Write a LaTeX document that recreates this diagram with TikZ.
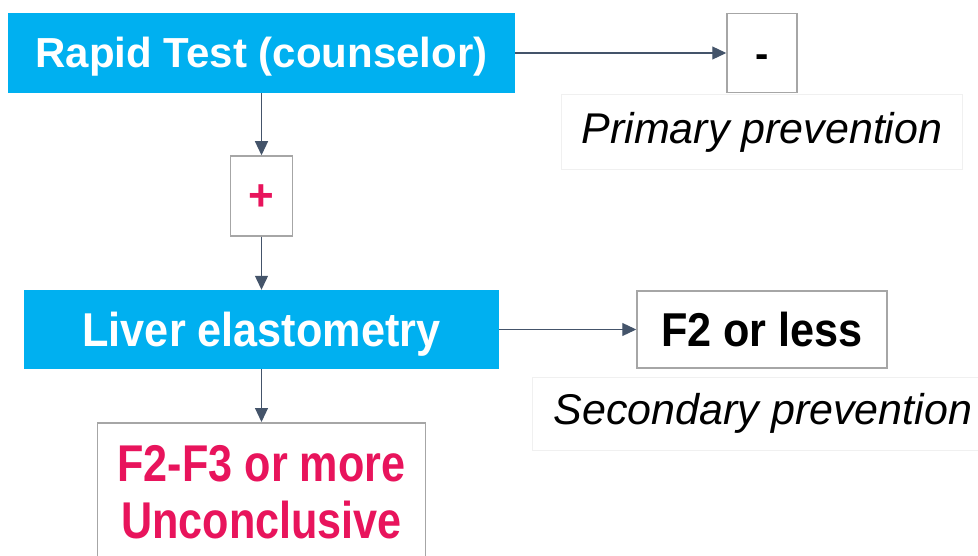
\documentclass[tikz,border=0pt]{standalone}
\usepackage{fontspec}
\setmainfont{Liberation Sans}
\newfontfamily\plainbold{Liberation Sans Bold}
\newfontfamily\narrowbold[FakeStretch=0.91]{Liberation Sans Bold}
\newfontfamily\condbold[FakeStretch=0.835]{Liberation Sans Bold}
\usetikzlibrary{arrows.meta}
\definecolor{testblue}{RGB}{0,176,240}
\definecolor{alertpink}{RGB}{232,20,92}
\definecolor{arrowgrey}{RGB}{68,84,106}
\definecolor{edgegrey}{RGB}{166,166,166}
\newcommand{\midx}{261.5}
\newcommand{\sidex}{762}

\begin{document}
\begin{tikzpicture}[x=1pt, y=-1pt, >={Triangle[length=14pt, width=13pt]},
    bluebox/.style={fill=testblue, text=white, inner sep=0pt, text depth=0pt},
    greybox/.style={draw=edgegrey, line width=1.5pt, fill=white, inner sep=0pt, text depth=0pt},
    notebox/.style={draw=black!6, line width=1pt, inner sep=0pt,
        font={\itshape\fontsize{43}{50}\selectfont}, text height=31pt, text depth=9pt},
    flowarrow/.style={->, draw=arrowgrey, fill=arrowgrey, line width=1.2pt}]
        \useasboundingbox (0, 0) rectangle (978, 556);
        \clip (0, 0) rectangle (978, 556);
        % boxes
        \node[bluebox, minimum width=507pt, minimum height=80pt, text height=30pt,
            font={\plainbold\fontsize{42}{50}\selectfont}] (rapid) at (\midx, 53) {Rapid Test (counselor)};
        \node[greybox, minimum width=70pt, minimum height=79pt, text height=30pt,
            font={\plainbold\fontsize{40}{50}\selectfont}] (neg) at (\sidex, 53) {-};
        \node[greybox, minimum width=62pt, minimum height=80pt, text height=30pt, text=alertpink,
            font={\plainbold\fontsize{44}{50}\selectfont}] (pos) at (\midx, 196) {+};
        \node[bluebox, minimum width=475pt, minimum height=79pt, text height=34pt,
            font={\narrowbold\fontsize{47.5}{55}\selectfont}] (liver) at (\midx, 329.5) {Liver elastometry};
        \node[greybox, minimum width=250pt, minimum height=77pt, text height=34pt,
            font={\narrowbold\fontsize{47.5}{55}\selectfont}] (mild) at (\sidex, 329.5) {F2 or less};
        \node[draw=edgegrey, line width=1.5pt, fill=white, anchor=north, text=alertpink,
            minimum width=328pt, inner ysep=23pt, align=center,
            font={\condbold\fontsize{51.7}{56.5}\selectfont}] (severe) at (\midx, 422)
            {F2-F3 or more\\Unconclusive};
        % labels
        \node[notebox, minimum width=401pt, minimum height=75pt] (primary) at (\sidex, 132.5) {Primary prevention};
        \node[notebox, minimum width=462pt, minimum height=73pt] (secondary) at (763, 413.5) {Secondary prevention};
        % arrows
        \draw[flowarrow] (rapid) -- (neg);
        \draw[flowarrow] (rapid) -- (pos);
        \draw[flowarrow] (pos) -- (liver);
        \draw[flowarrow] (liver) -- (mild);
        \draw[flowarrow] (liver) -- (severe);
    \end{tikzpicture}
\end{document}
